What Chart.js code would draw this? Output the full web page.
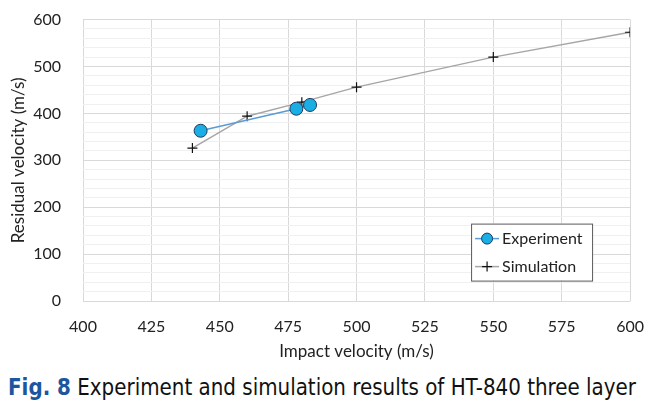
<!DOCTYPE html>
<html><head><meta charset="utf-8">
<script src="https://cdn.jsdelivr.net/npm/chart.js@4/dist/chart.umd.min.js"></script>
<style>
html,body{margin:0;padding:0;background:#fff;}
#wrap{position:relative;width:660px;height:414px;overflow:hidden;}
#cw{position:absolute;left:0;top:-12px;width:660px;height:377px;}
#cap{position:absolute;left:8px;top:374px;white-space:nowrap;font-family:"Liberation Sans Narrow","DejaVu Sans Condensed",sans-serif;font-size:26px;color:#111;}
#cap b{color:#1b56a0;}
</style></head>
<body><div id="wrap"><div id="cw"><canvas id="c" width="660" height="377"></canvas></div>
<div id="cap"><b>Fig. 8</b> Experiment and simulation results of HT-840 three layer</div></div>
<script>
const expImpact = [443, 478, 483];
const expResidual = [363, 410, 418];
const simImpact = [440, 460, 480, 500, 550, 600];
const simResidual = [326, 394, 424, 456, 520, 573];
const seriesNames = ["Experiment", "Simulation"];
const xTitle = "Impact velocity (m/s)";
const yTitle = "Residual velocity (m/s)";

const FONT = "Lato, 'Open Sans', sans-serif";

const legendPlugin = {
  id: 'boxLegend',
  afterDraw(chart) {
    const ctx = chart.ctx, a = chart.chartArea;
    const x0 = a.right - 159, y0 = a.top + 204, w = 121, h = 57;
    ctx.save();
    ctx.fillStyle = '#fff';
    ctx.fillRect(x0, y0, w, h);
    ctx.strokeStyle = '#595959'; ctx.lineWidth = 1;
    ctx.strokeRect(x0 + 0.5, y0 + 0.5, w, h);
    const rows = [y0 + 15, y0 + 43];
    ctx.strokeStyle = '#5b9bd5'; ctx.lineWidth = 1.5;
    ctx.beginPath(); ctx.moveTo(x0 + 4, rows[0]); ctx.lineTo(x0 + 28, rows[0]); ctx.stroke();
    ctx.fillStyle = '#1aaee5'; ctx.strokeStyle = '#1f3a5f'; ctx.lineWidth = 1;
    ctx.beginPath(); ctx.arc(x0 + 16, rows[0], 5.5, 0, Math.PI * 2); ctx.fill(); ctx.stroke();
    ctx.strokeStyle = '#a6a6a6'; ctx.lineWidth = 1.5;
    ctx.beginPath(); ctx.moveTo(x0 + 4, rows[1]); ctx.lineTo(x0 + 28, rows[1]); ctx.stroke();
    ctx.strokeStyle = '#111'; ctx.lineWidth = 1.2;
    ctx.beginPath(); ctx.moveTo(x0 + 11, rows[1]); ctx.lineTo(x0 + 21, rows[1]);
    ctx.moveTo(x0 + 16, rows[1] - 5); ctx.lineTo(x0 + 16, rows[1] + 5); ctx.stroke();
    ctx.fillStyle = '#222'; ctx.font = '16px ' + FONT; ctx.textBaseline = 'middle'; ctx.textAlign = 'left';
    ctx.fillText(seriesNames[0], x0 + 31, rows[0]);
    ctx.fillText(seriesNames[1], x0 + 31, rows[1]);
    ctx.restore();
  }
};

new Chart(document.getElementById('c'), {
  type: 'scatter',
  data: {
    datasets: [
      {
        label: seriesNames[0],
        data: expImpact.map((v, i) => ({x: v, y: expResidual[i]})),
        showLine: true, borderColor: '#5b9bd5', borderWidth: 1.5,
        pointRadius: 6.5, pointBackgroundColor: '#1aaee5', pointBorderColor: '#1f3a5f', pointBorderWidth: 1,
        order: 0
      },
      {
        label: seriesNames[1],
        data: simImpact.map((v, i) => ({x: v, y: simResidual[i]})),
        showLine: true, borderColor: '#a6a6a6', borderWidth: 1.5,
        pointStyle: 'cross', pointRadius: 5, pointBorderColor: '#111', pointBorderWidth: 1.2,
        order: 1
      }
    ]
  },
  options: {
    responsive: false, animation: false,
    layout: {padding: {top: 0, right: 24, left: 0, bottom: 0}},
    plugins: {legend: {display: false}, tooltip: {enabled: false}},
    scales: {
      x: {
        type: 'linear', min: 400, max: 600,
        afterFit(s) { s.height = 64; },
        ticks: {stepSize: 25, color: '#222', font: {family: FONT, size: 16}, padding: 16, autoSkip: false, maxRotation: 0},
        grid: {color: '#d9d9d9', lineWidth: 1, drawTicks: false},
        border: {display: false},
        title: {display: true, text: xTitle, color: '#222', font: {family: FONT, size: 17}, padding: {top: 4, bottom: 3}}
      },
      y: {
        type: 'linear', min: 0, max: 600,
        afterFit(s) { s.width = 83; },
        ticks: {stepSize: 20, color: '#222', font: {family: FONT, size: 16}, padding: 22, autoSkip: false,
          callback: v => (v % 100 === 0 ? String(v) : '')},
        grid: {color: c => (c.tick && c.tick.value % 100 === 0 ? '#d9d9d9' : '#f0f0f0'), lineWidth: 1, drawTicks: false},
        border: {display: false},
        title: {display: true, text: yTitle, color: '#222', font: {family: FONT, size: 17}, padding: {top: 8, bottom: 4}}
      }
    }
  },
  plugins: [legendPlugin]
});
const cap = document.getElementById('cap');
const target = 628;
const w = cap.getBoundingClientRect().width;
cap.style.fontSize = (26 * target / w).toFixed(2) + 'px';
</script>
</body></html>
